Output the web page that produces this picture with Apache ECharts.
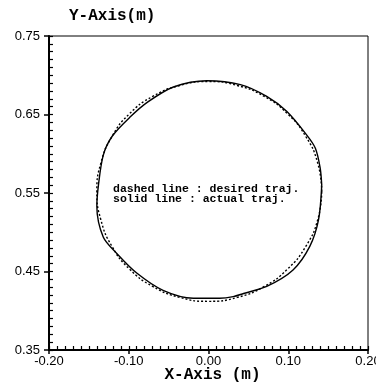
<!DOCTYPE html>
<html>
<head>
<meta charset="utf-8">
<script src="https://cdn.jsdelivr.net/npm/echarts@6/dist/echarts.min.js"></script>
<style>html,body{margin:0;padding:0;background:#fff}#c{width:376px;height:385px}</style>
</head>
<body>
<div id="c"></div>
<script>
// Desired trajectory (dashed)
var desiredX = [0.142, 0.137, 0.122, 0.099, 0.070, 0.036, 0.000, -0.036, -0.070, -0.099, -0.121, -0.135, -0.140, -0.135, -0.121, -0.099, -0.070, -0.036, 0.000, 0.036, 0.070, 0.099, 0.122, 0.137, 0.142];
var desiredY = [0.552, 0.588, 0.622, 0.651, 0.673, 0.687, 0.692, 0.687, 0.673, 0.651, 0.622, 0.588, 0.552, 0.516, 0.482, 0.453, 0.431, 0.417, 0.412, 0.417, 0.431, 0.453, 0.482, 0.516, 0.552];
// Actual trajectory (solid)
var actualX = [0.142, 0.140, 0.134, 0.123, 0.098, 0.073, 0.040, -0.002, -0.044, -0.076, -0.098, -0.121, -0.132, -0.138, -0.140, -0.132, -0.115, -0.090, -0.057, -0.019, 0.014, 0.031, 0.044, 0.073, 0.106, 0.127, 0.138, 0.142];
var actualY = [0.560, 0.582, 0.607, 0.624, 0.654, 0.673, 0.688, 0.693, 0.685, 0.666, 0.647, 0.622, 0.598, 0.560, 0.533, 0.494, 0.473, 0.448, 0.426, 0.416, 0.416, 0.418, 0.422, 0.431, 0.452, 0.482, 0.516, 0.560];
// Axis ticks
var xTicks = [-0.20, -0.10, 0.00, 0.10, 0.20];
var yTicks = [0.35, 0.45, 0.55, 0.65, 0.75];
var noteLines = ['dashed line : desired traj.', 'solid line : actual traj.'];

function pairs(xs, ys) { return xs.map(function (x, i) { return [x, ys[i]]; }); }

var chart = echarts.init(document.getElementById('c'), null, {renderer: 'canvas'});
var labelFont = {color: '#000', fontFamily: 'Liberation Sans', fontSize: 13};
var nameFont = {color: '#000', fontFamily: 'Liberation Mono', fontWeight: 'bold', fontSize: 16};

chart.setOption({
  animation: false,
  backgroundColor: '#fff',
  title: {
    text: 'Y-Axis(m)', left: 64, top: 3,
    textStyle: nameFont
  },
  grid: {left: 49, right: 8, top: 36, bottom: 35, show: true, borderColor: '#000', borderWidth: 1,
         backgroundColor: 'transparent', containLabel: false, outerBoundsMode: 'none'},
  xAxis: [{
    type: 'value', min: xTicks[0], max: xTicks[xTicks.length - 1], interval: 0.1,
    position: 'bottom',
    axisLine: {show: true, onZero: false, lineStyle: {color: '#000', width: 2}},
    axisTick: {show: true, inside: false, length: 4, lineStyle: {color: '#000', width: 1.5}},
    axisLabel: Object.assign({margin: 5, formatter: function (v) { return v.toFixed(2); }}, labelFont),
    splitLine: {show: false},
    name: 'X-Axis (m)', nameLocation: 'middle', nameGap: 17, nameMoveOverlap: false,
    nameTextStyle: Object.assign({padding: [0, 0, 0, 8]}, nameFont)
  }, {
    type: 'value', min: xTicks[0], max: xTicks[xTicks.length - 1], interval: 0.01,
    position: 'bottom', offset: 0,
    axisLine: {show: false, onZero: false},
    axisTick: {show: true, inside: true, length: 4, lineStyle: {color: '#000', width: 1.2}},
    axisLabel: {show: false}, splitLine: {show: false}
  }],
  yAxis: [{
    type: 'value', min: yTicks[0], max: yTicks[yTicks.length - 1], interval: 0.1,
    position: 'left',
    axisLine: {show: true, onZero: false, lineStyle: {color: '#000', width: 2}},
    axisTick: {show: true, inside: false, length: 5, lineStyle: {color: '#000', width: 1.5}},
    axisLabel: Object.assign({margin: 9, formatter: function (v) { return v.toFixed(2); }}, labelFont),
    splitLine: {show: false}
  }, {
    type: 'value', min: yTicks[0], max: yTicks[yTicks.length - 1], interval: 0.01,
    position: 'left', offset: 0,
    axisLine: {show: false, onZero: false},
    axisTick: {show: true, inside: true, length: 4, lineStyle: {color: '#000', width: 1.2}},
    axisLabel: {show: false}, splitLine: {show: false}
  }],
  graphic: [{
    type: 'text', left: 113, top: 183,
    style: {
      text: noteLines.join('\n'),
      font: 'bold 11.5px "Liberation Mono"', fill: '#000', lineHeight: 10
    }
  }],
  series: [{
    type: 'line', name: 'desired', xAxisIndex: 0, yAxisIndex: 0,
    data: pairs(desiredX, desiredY), smooth: true, symbol: 'none',
    lineStyle: {color: '#000', width: 1.4, type: [2, 2]}
  }, {
    type: 'line', name: 'actual', xAxisIndex: 0, yAxisIndex: 0,
    data: pairs(actualX, actualY), smooth: 0.3, symbol: 'none',
    lineStyle: {color: '#000', width: 1.4}
  }]
});
</script>
</body>
</html>
